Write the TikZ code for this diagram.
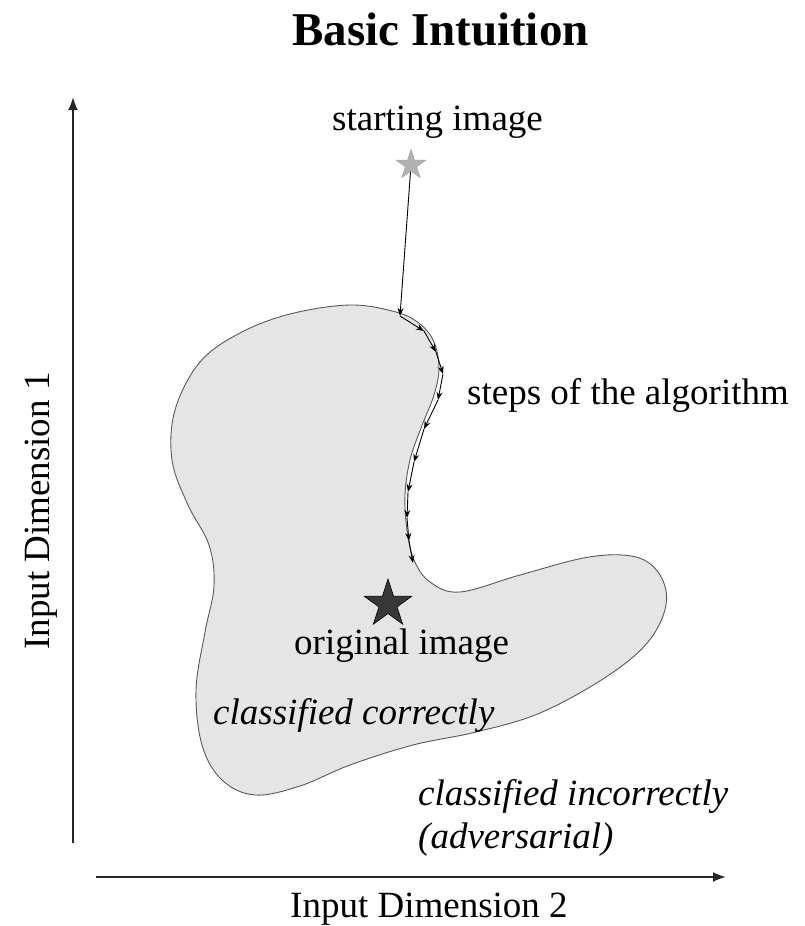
\documentclass[tikz,border=0pt]{standalone}
\usepackage{fontspec}
\setmainfont{Liberation Serif}
\usetikzlibrary{shapes.geometric,arrows.meta}
\begin{document}
\begin{tikzpicture}[x=1pt,y=-1pt,
  lbl/.style={anchor=base west,inner sep=0pt,font=\fontsize{37}{44}\selectfont},
  ilbl/.style={lbl,font=\fontsize{37}{44}\selectfont\itshape},
  axis/.style={line width=2pt,draw=black!85,-{Latex[length=13pt,width=10pt]}},
  stepln/.style={line width=0.9pt,-{Stealth[length=8pt,width=6pt]}},
  starshape/.style={star,star points=5,star point ratio=2.618,inner sep=0pt,line width=0.6pt}]
\useasboundingbox (0,0) rectangle (805,926);
% region
\path[fill=black!10,draw=black!65,line width=0.9pt]
  plot[smooth cycle,tension=0.6] coordinates {
  (396,312) (420,324) (434,342) (439,368) (434,395) (421,428) (410,460)
  (405,495) (407,530) (414,560) (430,582) (460,592) (520,575) (589,557)
  (636,557) (660,575) (666,605) (648,642) (606,677) (540,713) (476,732)
  (413,745) (350,765) (300,786) (255,795) (222,780) (202,745) (196,690)
  (205,632) (214,586) (209,545) (188,505) (172,460) (175,410) (200,362)
  (240,333) (290,314) (350,305)};
% axes
\coordinate (yo) at (73,843);
\coordinate (yt) at (73,97);
\coordinate (xo) at (96,877);
\coordinate (xt) at (726,877);
\draw[axis] (yo) -- (yt);
\draw[axis] (xo) -- (xt);
% title and labels
\node[anchor=base west,inner sep=0pt,font=\fontsize{47}{56}\selectfont\bfseries] (title) at (292,45) {Basic Intuition};
\node[lbl] (start) at (332,130) {starting image};
\node[lbl] (steps) at (467,404) {steps of the algorithm};
\node[lbl] (orig) at (294,654) {original image};
\node[ilbl] (corr) at (213,724) {classified correctly};
\node[ilbl] (inc) at (418,805) {classified incorrectly};
\node[ilbl] (adv) at (418,848) {(adversarial)};
\node[lbl] (xlab) at (290,917) {Input Dimension 2};
\node[lbl,rotate=90] (ylab) at (49,650) {Input Dimension 1};
% stars
\node[starshape,minimum size=31pt,fill=black!30,draw=black!35] (gstar) at (411,165) {};
\node[starshape,minimum size=50pt,fill=black!78,draw=black] (dstar) at (388,604) {};
% steps
\coordinate (s1) at (400,316);
\coordinate (s2) at (424,331);
\coordinate (s3) at (436,352);
\coordinate (s4) at (443,374);
\coordinate (s5) at (438,400);
\coordinate (s6) at (424,429);
\coordinate (s7) at (414,462);
\coordinate (s8) at (408,492);
\coordinate (s9) at (407,518);
\coordinate (s10) at (409,541);
\coordinate (s11) at (413,563);
\draw[stepln] (gstar) -- (s1);
\draw[stepln] (s1) -- (s2);
\draw[stepln] (s2) -- (s3);
\draw[stepln] (s3) -- (s4);
\draw[stepln] (s4) -- (s5);
\draw[stepln] (s5) -- (s6);
\draw[stepln] (s6) -- (s7);
\draw[stepln] (s7) -- (s8);
\draw[stepln] (s8) -- (s9);
\draw[stepln] (s9) -- (s10);
\draw[stepln] (s10) -- (s11);
\end{tikzpicture}
\end{document}
